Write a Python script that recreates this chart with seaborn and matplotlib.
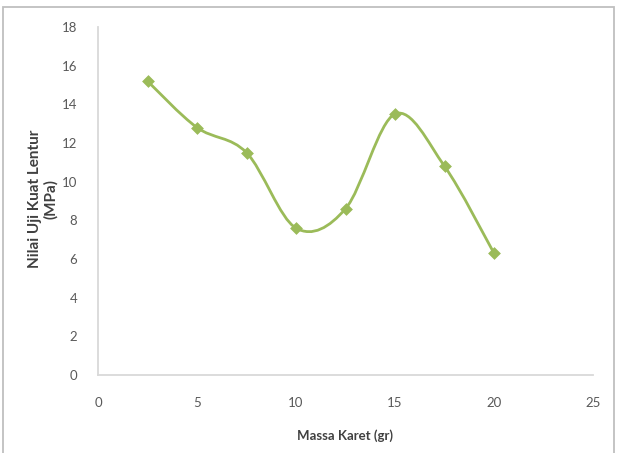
import numpy as np
import pandas as pd
import matplotlib
matplotlib.use("Agg")
import matplotlib.pyplot as plt
from matplotlib.path import Path
from matplotlib.patches import PathPatch, Rectangle
import seaborn as sns

# Data
massa_karet = [2.5, 5, 7.5, 10, 12.5, 15, 17.5, 20]
kuat_lentur = [15.2, 12.8, 11.5, 7.6, 8.6, 13.5, 10.8, 6.3]
x_ticks = [0, 5, 10, 15, 20, 25]
y_ticks = [0, 2, 4, 6, 8, 10, 12, 14, 16, 18]
x_label = "Massa Karet (gr)"
y_label = "Nilai Uji Kuat Lentur\n(MPa)"

GREEN = "#9BBB59"

sns.set_theme(style="white")
plt.rcParams["font.family"] = ["Lato", "DejaVu Sans"]

df = pd.DataFrame({"x": massa_karet, "y": kuat_lentur})

fig = plt.figure(figsize=(6.2, 4.53), dpi=100)
fig.patch.set_facecolor("white")
fig.patches.append(Rectangle((3 / 620, -0.05), (614 - 3) / 620, 1 - 7 / 453 + 0.05,
                             transform=fig.transFigure, fill=False,
                             edgecolor="#BFBFBF", linewidth=1.3, zorder=0))
ax = fig.add_axes([98 / 620, 1 - 375 / 453, (593 - 98) / 620, (375 - 27) / 453])

# Smoothed line (Excel-style Bezier through the data points)
xs = np.array(massa_karet, dtype=float)
ys = np.array(kuat_lentur, dtype=float)
verts = [(xs[0], ys[0])]
codes = [Path.MOVETO]
n = len(xs)
for i in range(n - 1):
    p0 = np.array([xs[max(i - 1, 0)], ys[max(i - 1, 0)]])
    p1 = np.array([xs[i], ys[i]])
    p2 = np.array([xs[i + 1], ys[i + 1]])
    p3 = np.array([xs[min(i + 2, n - 1)], ys[min(i + 2, n - 1)]])
    c1 = p1 + (p2 - p0) / 6.0
    c2 = p2 - (p3 - p1) / 6.0
    verts += [tuple(c1), tuple(c2), tuple(p2)]
    codes += [Path.CURVE4] * 3
ax.add_patch(PathPatch(Path(verts, codes), facecolor="none", edgecolor=GREEN,
                       linewidth=2.0, capstyle="round", joinstyle="round", zorder=2))

sns.scatterplot(data=df, x="x", y="y", ax=ax, marker="D", s=36, color=GREEN,
                edgecolor=GREEN, linewidth=0.5, zorder=3, legend=False)

ax.set_xlim(0, 25)
ax.set_ylim(0, 18)
ax.set_xticks(x_ticks)
ax.set_yticks(y_ticks)
ax.set_xticklabels([str(t) for t in x_ticks])
ax.set_yticklabels([str(t) for t in y_ticks])
ax.tick_params(axis="both", length=0, labelsize=9.5, labelcolor="#595959")
ax.tick_params(axis="y", pad=15)
ax.tick_params(axis="x", pad=16)

for s in ["top", "right"]:
    ax.spines[s].set_visible(False)
for s in ["left", "bottom"]:
    ax.spines[s].set_color("#D9D9D9")
    ax.spines[s].set_linewidth(1.3)
ax.grid(False)
ax.set_facecolor("white")

ax.set_xlabel(x_label, fontsize=9.5, fontweight="bold", color="#404040")
ax.xaxis.label.set_va("center")
ax.xaxis.set_label_coords((345 - 98) / 495, (375 - 436) / 348)

ax.set_ylabel(y_label, fontsize=11, fontweight="bold", color="#404040",
              linespacing=1.2, multialignment="center")
ax.yaxis.label.set_va("center")
ax.yaxis.label.set_ha("center")
ax.yaxis.set_label_coords((43 - 98) / 495, (375 - 199) / 348)

fig.savefig("out.png", dpi=100, facecolor="white")
